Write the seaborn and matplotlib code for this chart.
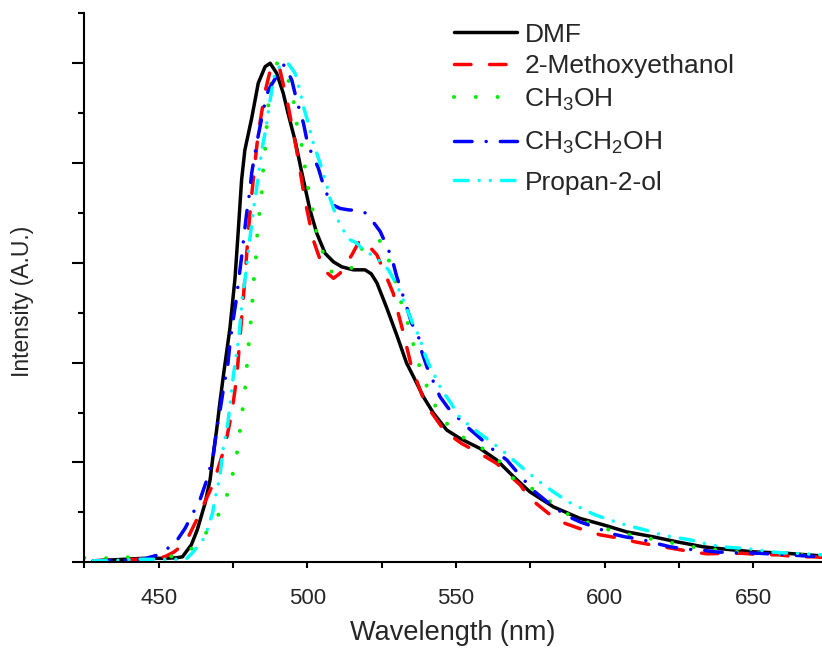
import matplotlib
matplotlib.use("Agg")
import matplotlib.pyplot as plt
import seaborn as sns
import pandas as pd
from matplotlib.ticker import MultipleLocator, NullFormatter

# ---------------- data ----------------
dmf_x = [428, 435, 445, 452, 456, 458, 461, 463, 465.6, 467.3, 468.4, 469.5, 470.6, 471.8,
         474, 475.7, 476.8, 477.9, 479, 481.3, 483.5, 485.8, 487.5, 489.7, 491.9, 493.5,
         495.9, 498, 500.9, 503.2, 506, 508.8, 511.6, 515.5, 519.4, 521.5, 523.4, 526.7,
         530.1, 533.4, 535.7, 539, 542.4, 546.9, 551.4, 558.1, 563.7, 569.3, 574.9, 582.8,
         591.7, 599.6, 607.4, 616.4, 624.3, 633.2, 641.1, 650, 661.3, 672.5]
dmf_y = [0.003, 0.005, 0.008, 0.008, 0.009, 0.011, 0.035, 0.065, 0.118, 0.165, 0.218, 0.265,
         0.32, 0.375, 0.47, 0.57, 0.666, 0.766, 0.826, 0.89, 0.96, 0.993, 1.0, 0.98, 0.94,
         0.9, 0.845, 0.785, 0.706, 0.659, 0.619, 0.602, 0.592, 0.586, 0.586, 0.578, 0.56,
         0.51, 0.455, 0.399, 0.372, 0.332, 0.299, 0.265, 0.248, 0.228, 0.205, 0.172, 0.141,
         0.111, 0.088, 0.075, 0.061, 0.051, 0.041, 0.031, 0.026, 0.021, 0.018, 0.013]

meo_x = [428, 440, 448, 452, 455, 458.9, 462.8, 468.4, 472.3, 474.6, 476.3, 477.2, 478.3,
         479.1, 480.2, 481.3, 482.4, 483.5, 485.8, 488, 490.8, 493.6, 496.4, 499.2, 502,
         505.5, 508.8, 511, 515, 517.7, 519.4, 523.4, 526.1, 528.9, 530, 532.3, 535.1,
         538.8, 541.9, 546.3, 551.9, 558.1, 563.7, 571.6, 574.9, 581.1, 586.7, 592.8, 598.5,
         605.2, 610.2, 617.5, 622.6, 629.3, 634.4, 641.1, 646.1, 653.4, 658.4, 664.6, 670.2, 673]
meo_y = [0.003, 0.005, 0.008, 0.011, 0.02, 0.038, 0.085, 0.158, 0.232, 0.299, 0.372, 0.439,
         0.516, 0.575, 0.666, 0.736, 0.8, 0.86, 0.943, 0.997, 0.987, 0.913, 0.826, 0.726,
         0.646, 0.586, 0.569, 0.579, 0.616, 0.646, 0.642, 0.616, 0.579, 0.539, 0.512, 0.46,
         0.39, 0.332, 0.299, 0.262, 0.238, 0.218, 0.198, 0.155, 0.128, 0.098, 0.078, 0.065,
         0.055, 0.048, 0.041, 0.033, 0.028, 0.021, 0.017, 0.018, 0.018, 0.015, 0.015, 0.011,
         0.011, 0.01]

meoh_x = [425, 431.4, 439.3, 446, 452.7, 457, 460.6, 463.5, 466.7, 469, 471.2, 473.8, 475.5,
          476.8, 477.6, 478.5, 479.3, 479.8, 480.4, 481.1, 481.6, 482.1, 482.8, 483.2, 483.9,
          484.7, 485.2, 485.8, 486.3, 486.9, 488, 489.7, 492, 494, 495.4, 496.4, 498.1,
          499.2, 500.3, 501.8, 502.9, 505.2, 508.2, 511, 515.2, 519, 521.5, 524.5, 527.8,
          531.8, 534, 535.9, 537.9, 540.7, 543.7, 548.3, 555, 562.6, 569.3, 575.5, 588.9,
          603.5, 617.5, 632.1, 646.1, 660.1, 673]
meoh_y = [0.009, 0.008, 0.01, 0.01, 0.01, 0.015, 0.025, 0.04, 0.065, 0.085, 0.106, 0.148,
          0.192, 0.234, 0.277, 0.319, 0.361, 0.403, 0.445, 0.489, 0.529, 0.572, 0.616, 0.659,
          0.699, 0.743, 0.79, 0.826, 0.87, 0.916, 0.97, 1.0, 0.99, 0.96, 0.923, 0.88, 0.836,
          0.793, 0.749, 0.706, 0.666, 0.622, 0.582, 0.578, 0.591, 0.636, 0.645, 0.644, 0.6,
          0.516, 0.476, 0.432, 0.389, 0.345, 0.305, 0.267, 0.24, 0.217, 0.168, 0.148, 0.091,
          0.061, 0.045, 0.028, 0.02, 0.017, 0.012]

etoh_x = [428, 438, 444.8, 449.9, 455.5, 458.9, 460.6, 463.9, 466.2, 468.4, 469.5, 470.6,
          472.1, 473.2, 474, 474.9, 476, 477, 477.9, 478.8, 479.6, 480.7, 481.3, 483, 485.2,
          486.9, 490.3, 492.2, 494.8, 496.4, 498.7, 500.3, 501.5, 503.7, 505.4, 507.1, 509,
          511, 514, 517.5, 519.5, 521.4, 524.5, 527.3, 528.9, 530.1, 532.3, 533.4, 535.1,
          537.4, 538.5, 540.2, 542.4, 544.6, 547.4, 553.6, 557.5, 562, 567.1, 572.1, 576.6,
          582.8, 587.3, 591.7, 597.9, 601.8, 606.9, 613, 617.2, 622.1, 627.7, 632.1, 637.1,
          643.3, 647.2, 652.3, 657.9, 661.8, 666.8, 672.5]
etoh_y = [0.003, 0.004, 0.006, 0.015, 0.038, 0.068, 0.088, 0.125, 0.165, 0.215, 0.265, 0.302,
          0.359, 0.392, 0.439, 0.479, 0.522, 0.569, 0.612, 0.659, 0.699, 0.746, 0.78, 0.84,
          0.906, 0.946, 0.98, 0.997, 0.966, 0.926, 0.88, 0.833, 0.82, 0.79, 0.756, 0.73,
          0.715, 0.709, 0.706, 0.705, 0.7, 0.688, 0.663, 0.626, 0.599, 0.572, 0.532, 0.512,
          0.479, 0.452, 0.422, 0.392, 0.362, 0.332, 0.309, 0.272, 0.252, 0.228, 0.205, 0.17,
          0.141, 0.111, 0.093, 0.081, 0.068, 0.058, 0.051, 0.045, 0.038, 0.031, 0.026, 0.025,
          0.021, 0.019, 0.019, 0.018, 0.016, 0.015, 0.013, 0.011]

ipa_x = [428, 433, 443, 450, 454, 458, 459.5, 461.7, 465.6, 468.1, 469, 470.6, 471.8, 473.2,
         474, 475.1, 476.3, 477, 477.6, 478.1, 478.8, 479.6, 480.4, 481, 481.9, 482.8, 484.7,
         486.1, 487.5, 489.2, 491.5, 493.5, 495.9, 497.6, 498.7, 500.3, 502, 504.3, 506.5,
         507.6, 509.3, 511, 512.7, 514.4, 516.6, 518.3, 520.5, 522.8, 525, 527.3, 530.1,
         531.8, 533.4, 535.7, 537.9, 539, 540.7, 543, 545.2, 548, 551.4, 556.4, 560.3, 564.8,
         569.3, 573.8, 578.9, 582.8, 587.8, 592.3, 596.8, 601.2, 605.8, 610.2, 614.7, 619.2,
         623.7, 628.7, 632.7, 637.7, 641.6, 646.7, 651.2, 655.6, 660.1, 664.6, 669.7, 673]
ipa_y = [0.003, 0.003, 0.006, 0.006, 0.006, 0.006, 0.008, 0.021, 0.051, 0.098, 0.128, 0.172,
         0.232, 0.275, 0.315, 0.372, 0.422, 0.452, 0.492, 0.529, 0.556, 0.592, 0.636, 0.663,
         0.706, 0.743, 0.826, 0.87, 0.926, 0.985, 0.997, 1.0, 0.98, 0.943, 0.913, 0.88, 0.84,
         0.8, 0.756, 0.73, 0.701, 0.676, 0.66, 0.646, 0.64, 0.629, 0.62, 0.612, 0.6, 0.586,
         0.556, 0.532, 0.509, 0.475, 0.449, 0.425, 0.399, 0.372, 0.345, 0.322, 0.289, 0.265,
         0.248, 0.228, 0.205, 0.182, 0.158, 0.141, 0.121, 0.108, 0.095, 0.086, 0.077, 0.07,
         0.063, 0.055, 0.05, 0.045, 0.039, 0.033, 0.03, 0.028, 0.025, 0.021, 0.019, 0.018,
         0.016, 0.015]

labels = ["DMF", "2-Methoxyethanol", r"CH$_\mathregular{3}$OH",
          r"CH$_\mathregular{3}$CH$_\mathregular{2}$OH", "Propan-2-ol"]
colors = ["#000000", "#FF0000", "#00EE00", "#0000FF", "#00FFFF"]
widths = [2.5, 2.5, 2.9, 2.5, 2.5]
styles = ["-", (0, (4.75, 5.35)), (0, (0.01, 5.4)), (0, (5.05, 4.07, 0.01, 4.07)),
          (0, (3.9, 3.2, 0.01, 3.2, 0.01, 3.2))]
xs = [dmf_x, meo_x, meoh_x, etoh_x, ipa_x]
ys = [dmf_y, meo_y, meoh_y, etoh_y, ipa_y]

# ---------------- figure ----------------
sns.set_style("ticks")
plt.rcParams["font.family"] = ["Liberation Sans", "DejaVu Sans"]
plt.rcParams["mathtext.fontset"] = "custom"
plt.rcParams["mathtext.rm"] = "Liberation Sans"
plt.rcParams["mathtext.it"] = "Liberation Sans:italic"

fig = plt.figure(figsize=(8.22, 6.48), dpi=100)
ax = fig.add_axes([84.3 / 822, 1 - 562.3 / 648, 1 - 84.3 / 822, (562.3 - 13.3) / 648])

for lab, x, y, c, ls, lw in zip(labels, xs, ys, colors, styles, widths):
    df = pd.DataFrame({"x": x, "y": y})
    sns.lineplot(data=df, x="x", y="y", ax=ax, color=c, linestyle=ls, linewidth=lw,
                 label=lab, errorbar=None, dash_capstyle="round", solid_capstyle="round",
                 solid_joinstyle="round")

ax.set_xlim(425, 673.1)
ax.set_ylim(0, 1.1)
ax.xaxis.set_major_locator(MultipleLocator(50))
ax.xaxis.set_minor_locator(MultipleLocator(25))
ax.yaxis.set_major_locator(MultipleLocator(0.2))
ax.yaxis.set_minor_locator(MultipleLocator(0.1))
ax.yaxis.set_major_formatter(NullFormatter())

for s in ["top", "right"]:
    ax.spines[s].set_visible(False)
for s in ["left", "bottom"]:
    ax.spines[s].set_linewidth(1.5)
    ax.spines[s].set_color("black")

ax.tick_params(axis="x", which="both", direction="out", length=4.3, width=1.5,
               labelsize=16, pad=14, color="black")
ax.tick_params(axis="y", which="major", direction="out", length=8.3, width=1.5, color="black")
ax.tick_params(axis="y", which="minor", direction="out", length=4.3, width=1.5, color="black")

ax.set_xlabel("Wavelength (nm)", fontsize=19.5, labelpad=8)
ax.set_ylabel("Intensity (A.U.)", fontsize=16.5)
ax.yaxis.set_label_coords(-0.068, 0.475)

handles, labs = ax.get_legend_handles_labels()
ax.get_legend().remove()
common = dict(loc="upper left", bbox_transform=fig.transFigure, frameon=False, fontsize=19,
              handlelength=2.4, handletextpad=0.27, borderpad=0, borderaxespad=0)
leg1 = ax.legend(handles[:3], labs[:3], bbox_to_anchor=(454 / 822, 1 - 22.5 / 648),
                 labelspacing=0.3, **common)
ax.add_artist(leg1)
ax.legend(handles[3:], labs[3:], bbox_to_anchor=(454 / 822, 1 - 130 / 648),
          labelspacing=0.55, **common)

fig.savefig("out.png", dpi=100)
